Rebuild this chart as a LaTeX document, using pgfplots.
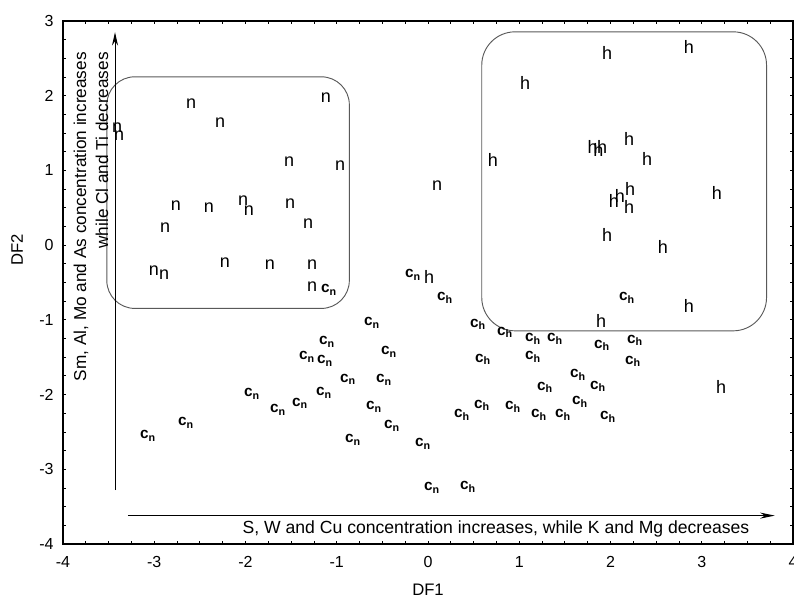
\documentclass[border=0pt]{standalone}
\usepackage{fontspec}
\setmainfont{Liberation Sans}
\usepackage{pgfplots}
\pgfplotsset{compat=1.18}
\usetikzlibrary{arrows.meta}

\newcommand{\cn}{{\bfseries\fontsize{11.5}{13}\selectfont c\textsubscript{n}}}
\newcommand{\ch}{{\bfseries\fontsize{11.5}{13}\selectfont c\textsubscript{h}}}

\begin{document}
\begin{tikzpicture}
\begin{axis}[
    name=ax,
    scale only axis,
    width=547.5pt, height=392.25pt,
    xmin=-4, xmax=4, ymin=-4, ymax=3,
    xtick distance=1, ytick distance=1,
    minor x tick num=3, minor y tick num=3,
    tick align=inside,
    major tick length=2.2pt, minor tick length=2.2pt,
    axis line style={line width=0.9pt},
    every tick/.style={black, line width=0.6pt},
    /pgf/number format/assume math mode=true,
    tick label style={font=\fontsize{12}{14}\selectfont},
    xticklabel style={yshift=-5.5pt},
    yticklabel style={xshift=-3.5pt},
    xlabel={DF1}, ylabel={DF2},
    label style={font=\fontsize{12.5}{14}\selectfont},
    xlabel style={at={(axis description cs:0.5,-0.088)}, anchor=center},
    ylabel style={at={(axis description cs:-0.063,0.562)}, anchor=center},
    clip=false,
    every node near coord/.append style={anchor=center, inner sep=0pt},
    nodes near coords align=center,
]
% groups
\draw[black!65, line width=0.7pt, rounded corners=21pt]
    (axis cs:-3.52,-0.847) rectangle (axis cs:-0.862,2.253);
\draw[black!65, line width=0.7pt, rounded corners=25pt]
    (axis cs:0.589,-1.147) rectangle (axis cs:3.71,2.855);

% n
\addplot[only marks, mark=none, nodes near coords={n},
    every node near coord/.append style={font=\fontsize{13.5}{15}\selectfont}]
table {
x y
-2.597 1.889
-2.279 1.634
-1.118 1.969
-3.408 1.567
-3.386 1.460
-1.523 1.113
-0.964 1.059
-2.762 0.524
-2.400 0.497
-2.027 0.591
-1.962 0.457
-1.512 0.550
-1.315 0.283
-2.882 0.229
-3.003 -0.346
-2.893 -0.400
-2.225 -0.239
-1.732 -0.266
-1.271 -0.266
-1.271 -0.560
0.099 0.791
};

% h
\addplot[only marks, mark=none, nodes near coords={h},
    every node near coord/.append style={font=\fontsize{13.5}{15}\selectfont}]
table {
x y
1.962 2.571
2.860 2.651
1.063 2.170
1.803 1.313
1.868 1.280
1.907 1.313
2.203 1.420
2.400 1.152
0.712 1.139
3.167 0.697
2.214 0.750
2.104 0.657
2.038 0.590
2.203 0.510
1.962 0.135
2.575 -0.025
2.860 -0.815
1.896 -1.019
3.211 -1.902
0.011 -0.427
};

% c_n
\addplot[only marks, mark=none, nodes near coords={\cn}]
table {
x y
-1.085 -0.601
-0.164 -0.400
-0.614 -1.040
-1.107 -1.297
-1.326 -1.498
-1.129 -1.551
-0.427 -1.431
-0.877 -1.793
-0.482 -1.806
-1.140 -1.980
-1.929 -1.993
-1.403 -2.114
-1.644 -2.207
-0.592 -2.167
-0.395 -2.421
-2.652 -2.381
-3.068 -2.555
-0.822 -2.609
-0.055 -2.662
0.044 -3.251
};

% c_h
\addplot[only marks, mark=none, nodes near coords={\ch}]
table {
x y
0.186 -0.708
2.181 -0.708
0.548 -1.059
0.844 -1.166
1.151 -1.257
1.392 -1.257
1.907 -1.338
2.268 -1.271
0.603 -1.525
1.151 -1.498
2.247 -1.552
1.644 -1.739
1.863 -1.887
1.282 -1.900
0.592 -2.141
1.666 -2.100
0.932 -2.167
0.373 -2.274
1.216 -2.274
1.479 -2.274
1.973 -2.301
0.438 -3.238
};

% trend arrows
\draw[-{Stealth[length=10pt,width=4.5pt]}, line width=0.75pt]
    (axis cs:-3.43,-3.28) -- (axis cs:-3.43,2.85);
\draw[-{Stealth[length=11pt,width=4.5pt]}, line width=0.75pt]
    (axis cs:-3.29,-3.62) -- (axis cs:3.80,-3.62);
\node[rotate=90, anchor=east, align=right, inner sep=0pt,
      font=\fontsize{12.9}{16.5}\selectfont]
    at (axis cs:-3.693,2.585)
    {Sm, Al, Mo and As concentration increases\\while Cl and Ti decreases};
\node[anchor=center, inner sep=0pt, font=\fontsize{13.2}{15}\selectfont]
    at (axis cs:0.745,-3.80)
    {S, W and Cu concentration increases, while K and Mg decreases};
\end{axis}
\pgfresetboundingbox
\path ([shift={(-47.25pt,-42.75pt)}]ax.south west)
    rectangle ([shift={(0.75pt,15.75pt)}]ax.north east);
\end{tikzpicture}
\end{document}
